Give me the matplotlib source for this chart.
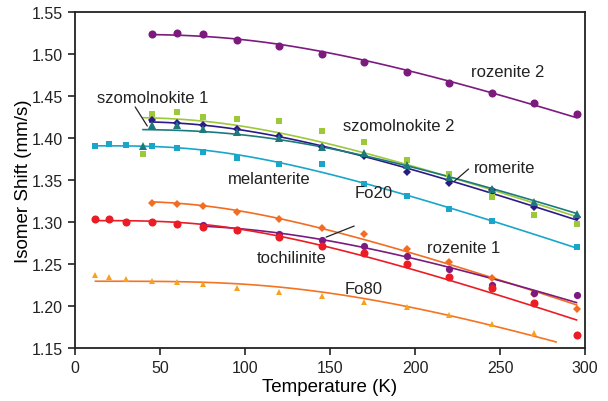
import numpy as np
import matplotlib
matplotlib.use('Agg')
import matplotlib.pyplot as plt

plt.rcParams['font.family'] = ['Liberation Sans', 'DejaVu Sans']

# temperatures (K)
t_main = [45, 60, 75, 95, 120, 145, 170, 195, 220, 245, 270, 295]
t_low = [12, 20, 30, 45, 60, 75, 95, 120, 145, 170, 195, 220, 245, 270, 295]

# isomer shifts (mm/s)
rozenite2 = [1.524, 1.525, 1.524, 1.517, 1.509, 1.500, 1.490, 1.478, 1.466, 1.454, 1.442, 1.428]
szomol2_t = [40] + t_main
szomol2 = [1.381, 1.429, 1.431, 1.425, 1.423, 1.420, 1.408, 1.395, 1.374, 1.357, 1.330, 1.308, 1.298]
romerite = [1.421, 1.418, 1.415, 1.411, 1.402, 1.389, 1.378, 1.360, 1.346, 1.338, 1.318, 1.306]
szomol1_t = [40] + t_main
szomol1 = [1.391, 1.416, 1.415, 1.411, 1.407, 1.400, 1.389, 1.382, 1.368, 1.353, 1.339, 1.324, 1.309]
melan_t = [12, 20, 30, 45, 60, 75, 95, 120, 145, 170, 195, 220, 245, 295]
melanterite = [1.390, 1.393, 1.392, 1.390, 1.388, 1.383, 1.376, 1.369, 1.369, 1.345, 1.331, 1.315, 1.301, 1.270]
fo20 = [1.323, 1.322, 1.319, 1.312, 1.304, 1.293, 1.286, 1.268, 1.252, 1.233, 1.214, 1.197]
roz1_t = [75, 95, 120, 145, 170, 195, 220, 245, 270, 295]
rozenite1 = [1.297, 1.291, 1.286, 1.279, 1.272, 1.260, 1.244, 1.225, 1.216, 1.213]
tochilinite = [1.304, 1.303, 1.300, 1.300, 1.298, 1.294, 1.291, 1.282, 1.272, 1.263, 1.250, 1.235, 1.222, 1.204, 1.166]
fo80_t = [12, 20, 30, 45, 60, 75, 95, 120, 145, 170, 195, 220, 245, 270]
fo80 = [1.237, 1.235, 1.232, 1.230, 1.228, 1.226, 1.222, 1.217, 1.212, 1.205, 1.199, 1.189, 1.179, 1.168]

# 9k/(2Mc) for 57Fe, mm/s per K
K_FE = 9 * 1.380649e-23 / (2 * 57 * 1.66054e-27 * 2.998e8) * 1e3


def sod_shape(T, theta):
    # Debye second-order Doppler shift (without the constant zero-point part)
    T = np.atleast_1d(np.asarray(T, dtype=float))
    out = np.empty_like(T)
    for i, t in enumerate(T):
        u = np.linspace(1e-6, theta / t, 400)
        integ = np.trapezoid(u ** 3 / np.expm1(u), u)
        out[i] = -K_FE * t * (t / theta) ** 3 * integ
    return out


def debye_fit(x, y):
    best = None
    for theta in np.arange(150, 900, 5):
        s = sod_shape(x, theta)
        a = np.mean(y - s)
        sse = np.sum((y - s - a) ** 2)
        if best is None or sse < best[0]:
            best = (sse, theta, a)
    return best[1], best[2]


# (x, y, marker, size, marker colour, line colour, fit range)
series = [
    (t_main, rozenite2, 'o', 5.8, '#7d1a7e', '#7d1a7e', (45, 295)),
    (szomol2_t, szomol2, 's', 5, '#9cc83a', '#9cc83a', (40, 295)),
    (t_main, romerite, 'D', 4.3, '#2c1a86', '#2c1a86', (44, 295)),
    (szomol1_t, szomol1, '^', 5.2, '#1d7a7c', '#1d7a7c', (40, 295)),
    (melan_t, melanterite, 's', 5, '#1aa6cb', '#1aa6cb', (12, 295)),
    (t_main, fo20, 'D', 4.3, '#f26c22', '#f26c22', (45, 295)),
    (roz1_t, rozenite1, 'o', 5.2, '#7d1a7e', '#7d1a7e', (75, 295)),
    (t_low, tochilinite, 'o', 5.8, '#ec1c24', '#ec1c24', (12, 295)),
    (fo80_t, fo80, '^', 4.6, '#f8a11c', '#f47421', (12, 283)),
]

fig = plt.figure(figsize=(6.08, 4.02), dpi=100)
ax = fig.add_axes([0.1234, 0.1318, 0.8388, 0.8359])

for x, y, mk, ms, mc, lc, rng in series:
    x = np.array(x, dtype=float)
    y = np.array(y)
    theta, a = debye_fit(x, y)
    xf = np.linspace(rng[0], rng[1], 120)
    ax.plot(xf, a + sod_shape(xf, theta), color=lc, lw=1.2, zorder=2)
    ax.plot(x, y, ls='none', marker=mk, ms=ms, color=mc, mew=0, zorder=3)

labels = [
    ('rozenite 2', 254.6, 1.4786),
    ('szomolnokite 1', 45.5, 1.4488),
    ('szomolnokite 2', 190.2, 1.4143),
    ('romerite', 252.8, 1.3643),
    ('melanterite', 114, 1.3512),
    ('Fo20', 175.4, 1.3357),
    ('rozenite 1', 228.6, 1.2702),
    ('tochilinite', 127.6, 1.2575),
    ('Fo80', 169.5, 1.2214),
]
for txt, lx, ly in labels:
    ax.text(lx, ly, txt, ha='center', va='center', fontsize=12, color='#222222')

pointers = [
    ((35.4, 1.4369), (42.5, 1.4143)),
    ((231.5, 1.3631), (223.3, 1.3488)),
    ((164.2, 1.2952), (147.7, 1.2820)),
]
for p0, p1 in pointers:
    ax.annotate('', xy=p1, xytext=p0,
                arrowprops=dict(arrowstyle='-', color='#222222', lw=0.9, shrinkA=0, shrinkB=0))

ax.set_xlim(0, 300)
ax.set_ylim(1.15, 1.55)
ax.set_xticks(np.arange(0, 301, 50))
ax.set_yticks(np.arange(1.15, 1.551, 0.05))
ax.set_yticklabels([f'{v:.2f}' for v in np.arange(1.15, 1.551, 0.05)])
ax.tick_params(direction='out', length=5, width=1.2, labelsize=11.5, colors='#222222',
               top=False, right=False)
for sp in ax.spines.values():
    sp.set_linewidth(1.3)
    sp.set_color('#222222')
ax.set_xlabel('Temperature (K)', fontsize=13.5, labelpad=2)
ax.set_ylabel('Isomer Shift (mm/s)', fontsize=13.5, labelpad=0)

fig.savefig('out.png', dpi=100)
